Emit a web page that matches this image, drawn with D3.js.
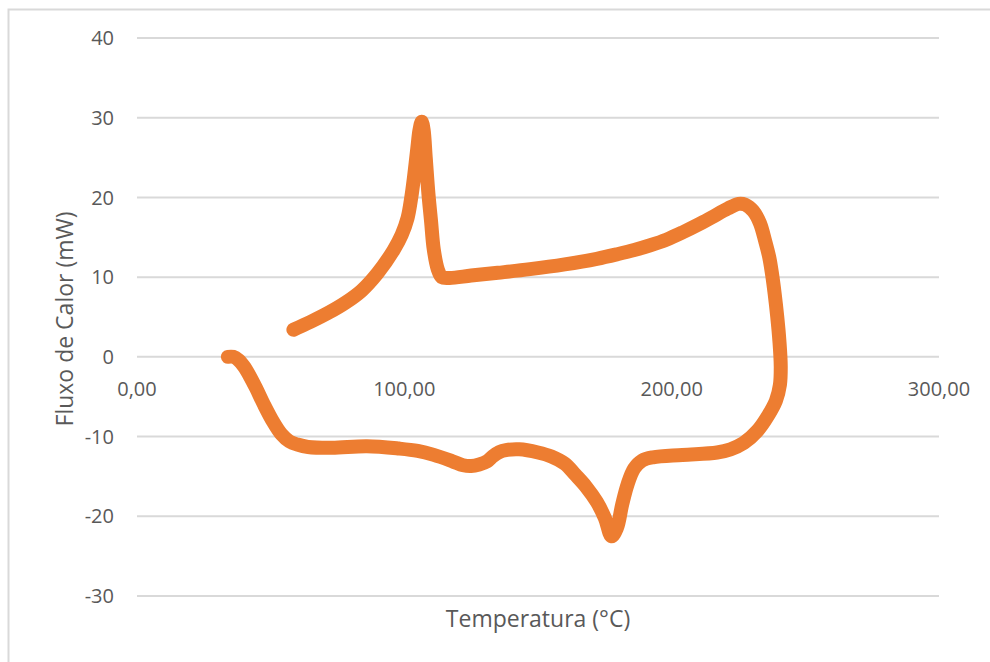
<!DOCTYPE html>
<html>
<head>
<meta charset="utf-8">
<script src="https://cdn.jsdelivr.net/npm/d3@7"></script>
<style>
  html, body { margin: 0; padding: 0; background: #ffffff; }
  svg { display: block; }
  text { font-family: "Open Sans", Lato, sans-serif; fill: #595959; }
</style>
</head>
<body>
<svg id="chart" width="990" height="662"></svg>
<script>
// ---- Data ----
const temperature = [
  34, 36, 38, 40, 42, 44.5, 47.5, 51, 54, 57, 60, 64, 73, 86, 98, 105, 111, 118, 122, 125, 128, 131, 133, 135.5, 138, 143,
  150, 155, 160, 164, 168, 172, 175, 177.5, 179.5, 181.5, 183.5, 186, 189, 193, 204, 217, 222, 227, 232, 236,
  239, 240.5, 240.8, 240.3, 239.5, 238.5, 237.5, 236.5, 235, 233, 230.5, 227.5, 225, 221, 215, 210, 204, 198, 192,
  186, 180, 172, 160, 147, 135, 125, 117, 114, 112.5, 111, 110, 109, 108, 107.2, 106.5, 105.7, 104.8, 103.6, 102.6, 101.2,
  99, 96, 90, 84, 78, 72, 65, 58.5
];
const heatFlow = [
  0, 0, -0.4, -1.2, -2.3, -3.9, -6.0, -8.2, -9.7, -10.6, -11.0, -11.3, -11.4, -11.2, -11.5, -11.8, -12.3, -13.1, -13.6, -13.7, -13.5, -13.1, -12.5, -11.95, -11.7, -11.6,
  -12.0, -12.5, -13.4, -14.8, -16.3, -18.2, -20.2, -22.5, -21.5, -18.5, -16, -14, -13, -12.6, -12.3, -12.0, -11.6, -10.8, -9.3, -7.4,
  -5.5, -3.5, -1.2, 2, 5, 8, 10.5, 12.5, 14.5, 16.8, 18.3, 19.1, 19.2, 18.6, 17.5, 16.6, 15.6, 14.7, 14.0,
  13.4, 12.9, 12.3, 11.6, 11.0, 10.55, 10.2, 9.9, 10.0, 11.0, 13.5, 17, 20.5, 25, 28.5, 29.5, 28.5, 26, 22.5, 20, 17.4,
  15.3, 13.4, 10.5, 8.3, 6.8, 5.6, 4.4, 3.4
];
const xTicks = [0, 100, 200, 300];
const xTickLabels = ["0,00", "100,00", "200,00", "300,00"];
const yTicks = [-30, -20, -10, 0, 10, 20, 30, 40];
const yTickLabels = ["-30", "-20", "-10", "0", "10", "20", "30", "40"];
const xTitle = "Temperatura (°C)";
const yTitle = "Fluxo de Calor (mW)";

// ---- Layout ----
const svg = d3.select("#chart");
const x = d3.scaleLinear().domain([0, 300]).range([137, 939]);
const y = d3.scaleLinear().domain([-30, 40]).range([596, 38]);

// chart area border (left/top visible only)
svg.append("rect")
  .attr("x", 8.5).attr("y", 9.5)
  .attr("width", 1200).attr("height", 1000)
  .attr("fill", "none").attr("stroke", "#d9d9d9").attr("stroke-width", 2);

// horizontal gridlines
svg.append("g").selectAll("line").data(yTicks).join("line")
  .attr("x1", x(0)).attr("x2", x(300))
  .attr("y1", d => y(d)).attr("y2", d => y(d))
  .attr("stroke", "#d9d9d9").attr("stroke-width", 2);

// y tick labels
svg.append("g").selectAll("text").data(yTicks).join("text")
  .attr("x", 114).attr("y", d => y(d))
  .attr("dy", "0.36em")
  .attr("text-anchor", "end")
  .style("font-size", "20px")
  .text((d, i) => yTickLabels[i]);

// x tick labels (placed below the zero line)
svg.append("g").selectAll("text").data(xTicks).join("text")
  .attr("x", d => x(d)).attr("y", y(0) + 39.5)
  .attr("text-anchor", "middle")
  .style("font-size", "20px")
  .text((d, i) => xTickLabels[i]);

// axis titles
svg.append("text")
  .attr("x", (x(0) + x(300)) / 2).attr("y", 627)
  .attr("text-anchor", "middle")
  .style("font-size", "23px")
  .text(xTitle);

svg.append("text")
  .attr("transform", `translate(73, ${(y(-30) + y(40)) / 2 + 2}) rotate(-90)`)
  .attr("text-anchor", "middle")
  .style("font-size", "23px")
  .text(yTitle);

// data line
const pts = temperature.map((t, i) => [t, heatFlow[i]]);
const line = d3.line()
  .x(d => x(d[0])).y(d => y(d[1]))
  .curve(d3.curveCatmullRom.alpha(0.5));
svg.append("path")
  .datum(pts)
  .attr("d", line)
  .attr("fill", "none")
  .attr("stroke", "#ED7D31")
  .attr("stroke-width", 14)
  .attr("stroke-linecap", "round")
  .attr("stroke-linejoin", "round");
</script>
</body>
</html>
